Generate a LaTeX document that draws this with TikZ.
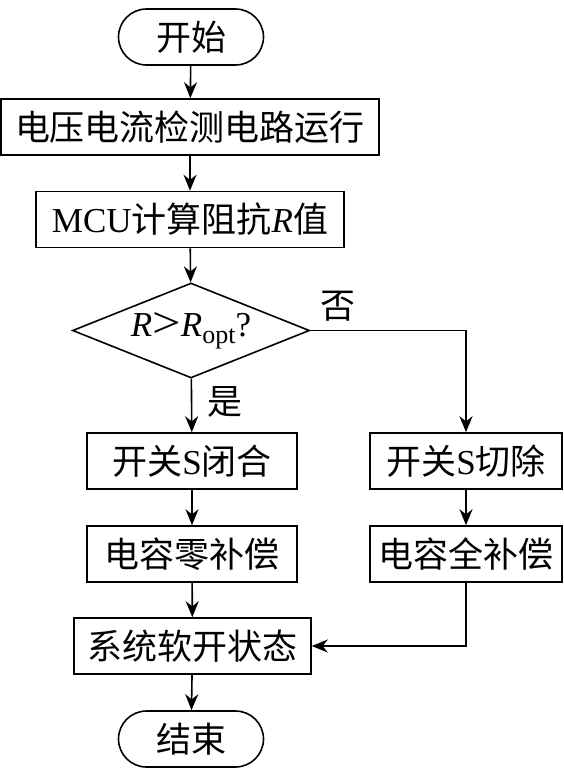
\documentclass[tikz,border=0pt]{standalone}
\usepackage{fontspec}
\setmainfont{Liberation Serif}
\newfontfamily\cjk{Noto Sans CJK SC}
\usetikzlibrary{shapes.geometric,arrows.meta}

\begin{document}
\begin{tikzpicture}[x=1pt,y=-1pt,line width=1.6pt,
        font=\fontsize{35}{40}\selectfont,
        box/.style={draw,rectangle,inner sep=0pt,minimum height=56pt},
        term/.style={box,rounded corners=28pt,minimum width=145pt},
        test/.style={draw,diamond,inner sep=0pt,aspect=2.5,minimum width=237pt,minimum height=95pt},
        arr/.style={-{Stealth[length=16pt,width=13pt]}}]
        \useasboundingbox (0,0) rectangle (563,774);
        % main column
        \node[term] (start) at (191,37) {\cjk 开始};
        \node[box,minimum width=378pt] (detect) at (190,127) {\cjk 电压电流检测电路运行};
        \node[box,minimum width=308pt] (calc) at (190,219.5) {MCU{\cjk 计算阻抗}\textit{R}{\cjk 值}};
        \node[test] (check) at (191,330.5) {\textit{R}\raisebox{-1.5pt}{\scalebox{1.45}[1.25]{>}}\textit{R}\raisebox{-7pt}{\fontsize{26}{26}\selectfont opt}?};
        \node[box,minimum width=210pt] (close) at (192,461) {{\cjk 开关}S{\cjk 闭合}};
        \node[box,minimum width=210pt] (zero) at (192,554) {\cjk 电容零补偿};
        \node[box,minimum width=237pt] (soft) at (192.5,646) {\cjk 系统软开状态};
        \node[term] (stop) at (191,739) {\cjk 结束};
        % right column
        \node[box,minimum width=192pt] (cut) at (466,461) {{\cjk 开关}S{\cjk 切除}};
        \node[box,minimum width=192pt] (full) at (466,554) {\cjk 电容全补偿};
        \node (no) at (338,306) {\cjk 否};
        \node (yes) at (225,402) {\cjk 是};
        % connectors
        \draw[arr] (start) -- (detect);
        \draw[arr] (detect) -- (calc);
        \draw[arr] (calc) -- (check);
        \draw[arr] (check) -- (close);
        \draw[arr] (close) -- (zero);
        \draw[arr] (zero) -- (soft);
        \draw[arr] (soft) -- (stop);
        \draw[arr] (check.east) -| (cut);
        \draw[arr] (cut) -- (full);
        \draw[arr] (full) |- (soft);
\end{tikzpicture}
\end{document}
